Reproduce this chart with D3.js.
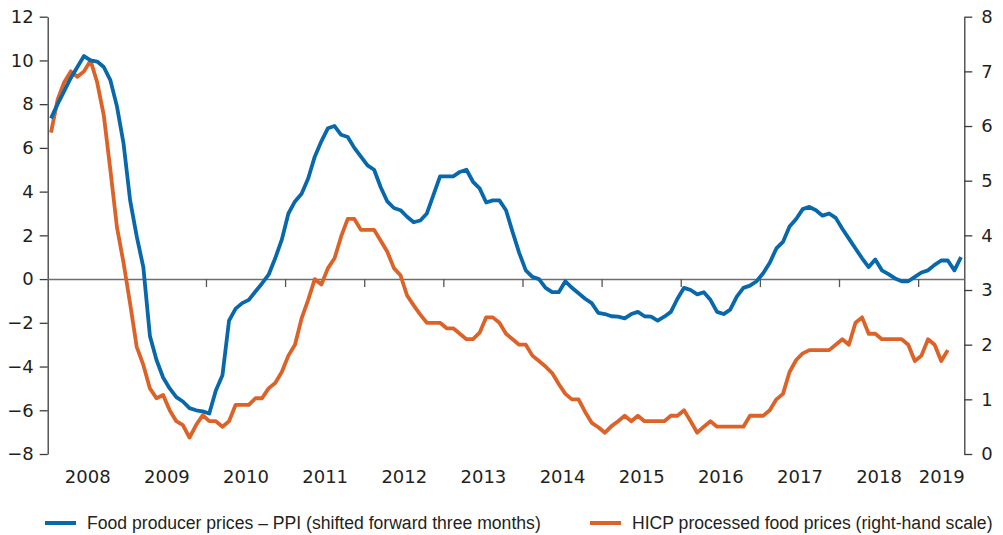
<!DOCTYPE html>
<html>
<head>
<meta charset="utf-8">
<script src="https://cdn.jsdelivr.net/npm/d3@7"></script>
<style>
  html, body { margin: 0; padding: 0; background: #fff; }
  svg { display: block; }
  .tick text { font-family: "DejaVu Sans", sans-serif; font-size: 18px; fill: #231f20; }
  .legend text { font-family: "Liberation Sans", sans-serif; font-size: 17.6px; fill: #231f20; }
</style>
</head>
<body>
<svg id="chart" width="1003" height="535"></svg>
<script>
// Monthly data, Jan 2008 onwards
const startYear = 2008;
const yearLabels = ["2008","2009","2010","2011","2012","2013","2014","2015","2016","2017","2018","2019"];
const leftTicks = [-8, -6, -4, -2, 0, 2, 4, 6, 8, 10, 12];
const rightTicks = [0, 1, 2, 3, 4, 5, 6, 7, 8];

// Food producer prices - PPI (shifted forward three months), left scale, Jan 2008 - Jul 2019
const ppi = [
  7.35, 8.0, 8.6, 9.2, 9.7, 10.2, 10.0, 9.95, 9.7, 9.1, 7.9, 6.2,
  3.6, 1.95, 0.55, -2.6, -3.7, -4.5, -5.0, -5.4, -5.6, -5.9, -6.0, -6.05,
  -6.15, -5.1, -4.4, -1.9, -1.35, -1.1, -0.95, -0.57, -0.2, 0.2, 0.95, 1.8,
  3.0, 3.55, 3.9, 4.6, 5.6, 6.3, 6.9, 7.0, 6.6, 6.5, 6.0, 5.6,
  5.2, 5.0, 4.2, 3.55, 3.25, 3.15, 2.85, 2.6, 2.68, 3.0, 3.85, 4.7,
  4.7, 4.7, 4.9, 5.0, 4.45, 4.15, 3.5, 3.6, 3.6, 3.15, 2.15, 1.2,
  0.4, 0.1, 0.0, -0.4, -0.6, -0.6, -0.1, -0.4, -0.65, -0.9, -1.1, -1.55,
  -1.6, -1.7, -1.72, -1.8, -1.6, -1.5, -1.7, -1.72, -1.9, -1.72, -1.5, -0.9,
  -0.4, -0.5, -0.7, -0.6, -0.95, -1.5, -1.6, -1.4, -0.8, -0.4, -0.3, -0.1,
  0.27, 0.75, 1.4, 1.7, 2.4, 2.75, 3.2, 3.3, 3.15, 2.9, 3.0, 2.8,
  2.3, 1.85, 1.4, 0.95, 0.55, 0.9, 0.4, 0.23, 0.03, -0.1, -0.1, 0.1,
  0.3, 0.4, 0.65, 0.85, 0.85, 0.4, 1.0
];

// HICP processed food prices, right-hand scale, Jan 2008 - May 2019
const hicp = [
  5.88, 6.48, 6.8, 7.0, 6.9, 7.0, 7.2, 6.8, 6.2, 5.2, 4.15, 3.5,
  2.75, 1.96, 1.63, 1.2, 1.02, 1.08, 0.8, 0.6, 0.53, 0.3, 0.53, 0.71,
  0.6, 0.6, 0.5, 0.6, 0.9, 0.9, 0.9, 1.02, 1.02, 1.2, 1.3, 1.5,
  1.8, 2.0, 2.48, 2.82, 3.2, 3.1, 3.4, 3.58, 3.98, 4.3, 4.3, 4.1,
  4.1, 4.1, 3.9, 3.7, 3.4, 3.27, 2.9, 2.72, 2.55, 2.4, 2.4, 2.4,
  2.3, 2.3, 2.2, 2.1, 2.1, 2.22, 2.5, 2.5, 2.4, 2.2, 2.1, 2.0,
  2.0, 1.8, 1.7, 1.6, 1.48, 1.28, 1.1, 1.0, 1.0, 0.77, 0.57, 0.49,
  0.39, 0.51, 0.6, 0.7, 0.6, 0.7, 0.6, 0.6, 0.6, 0.6, 0.7, 0.7,
  0.8, 0.6, 0.39, 0.5, 0.6, 0.5, 0.5, 0.5, 0.5, 0.5, 0.7, 0.7,
  0.7, 0.8, 1.0, 1.1, 1.5, 1.72, 1.84, 1.9, 1.9, 1.9, 1.9, 2.0,
  2.1, 2.0, 2.4, 2.5, 2.2, 2.2, 2.1, 2.1, 2.1, 2.1, 2.0, 1.7,
  1.8, 2.1, 2.0, 1.7, 1.9
];

const seriesNames = [
  "Food producer prices \u2013 PPI (shifted forward three months)",
  "HICP processed food prices (right-hand scale)"
];
const colors = ["#0768ac", "#dc6228"];

const svg = d3.select("#chart");
const plotLeft = 47.7, plotRight = 964.3, plotTop = 16.7, plotBottom = 454;
const totalMonths = 139;

const x = d3.scaleLinear().domain([0, totalMonths]).range([plotLeft, plotRight]);
const yL = d3.scaleLinear().domain([-8, 12]).range([plotBottom, plotTop]);
const yR = d3.scaleLinear().domain([0, 8]).range([plotBottom, plotTop]);

// Left axis
const gL = svg.append("g").attr("transform", `translate(${plotLeft},0)`)
  .call(d3.axisLeft(yL).tickValues(leftTicks).tickSize(8).tickSizeOuter(0).tickPadding(6));
// Right axis
const gR = svg.append("g").attr("transform", `translate(${plotRight},0)`)
  .call(d3.axisRight(yR).tickValues(rightTicks).tickSize(8).tickSizeOuter(0).tickPadding(9));
[gL, gR].forEach(g => {
  g.select(".domain").attr("stroke", "#3c3c3c").attr("stroke-width", 1.3);
  g.selectAll(".tick line").attr("stroke", "#3c3c3c").attr("stroke-width", 1.3);
});

// Zero line with year-boundary ticks
const yearTicks = d3.range(1, 12).map(k => k * 12);
const gZ = svg.append("g").attr("transform", `translate(0,${yL(0)})`)
  .call(d3.axisBottom(x).tickValues(yearTicks).tickSize(8).tickSizeOuter(0).tickFormat(""));
gZ.select(".domain").attr("stroke", "#6d6e70").attr("stroke-width", 1.5);
gZ.selectAll(".tick line").attr("stroke", "#555").attr("stroke-width", 1.3);

// Year labels
const labelPos = yearLabels.map((y, i) => i < 11 ? i * 12 + 6 : (132 + totalMonths) / 2);
const gY = svg.append("g").attr("transform", `translate(0,${plotBottom + 16})`)
  .call(d3.axisBottom(x).tickValues(labelPos).tickSize(0).tickPadding(0)
    .tickFormat((d, i) => yearLabels[i]));
gY.select(".domain").remove();

// Lines
const lineL = d3.line().x((d, i) => x(i + 0.5)).y(d => yL(d));
const lineR = d3.line().x((d, i) => x(i + 0.5)).y(d => yR(d));
svg.append("path").datum(hicp).attr("d", lineR).attr("fill", "none")
  .attr("stroke", colors[1]).attr("stroke-width", 3.8).attr("stroke-linejoin", "round");
svg.append("path").datum(ppi).attr("d", lineL).attr("fill", "none")
  .attr("stroke", colors[0]).attr("stroke-width", 3.8).attr("stroke-linejoin", "round");

// Legend
const legend = svg.append("g").attr("class", "legend");
const legendItems = [{x: 45, tx: 87}, {x: 590, tx: 632}];
legendItems.forEach((it, i) => {
  legend.append("line").attr("x1", it.x).attr("x2", it.x + 31).attr("y1", 523).attr("y2", 523)
    .attr("stroke", colors[i]).attr("stroke-width", 4);
  legend.append("text").attr("x", it.tx).attr("y", 523).attr("dy", "0.35em").text(seriesNames[i]);
});
</script>
</body>
</html>
